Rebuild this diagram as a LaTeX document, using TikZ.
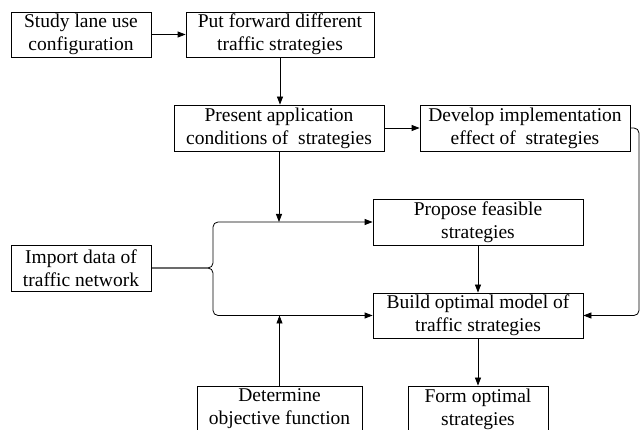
\documentclass[tikz,border=0pt]{standalone}
\usepackage{fontspec}
\setmainfont{Liberation Serif}
\usetikzlibrary{arrows.meta}

\begin{document}
\begin{tikzpicture}[x=1pt, y=-1pt,
  box/.style={draw, line width=0.8pt, align=center, inner sep=0pt,
    font=\fontsize{19.5}{23}\selectfont},
  flow/.style={line width=0.8pt, -{Triangle[length=8pt,width=6pt]}}]
  \useasboundingbox (0,0) rectangle (641,430);

  % Top rows
  \node[box, minimum width=140, minimum height=45] (study) at (81,34.5) {Study lane use\\configuration};
  \node[box, minimum width=188, minimum height=45] (forward) at (280,34.5) {Put forward different\\traffic strategies};
  \node[box, minimum width=210, minimum height=46] (present) at (279,128) {Present application\\conditions of\ \ strategies};
  \node[box, minimum width=210, minimum height=46] (develop) at (525,128) {Develop implementation\\effect of\ \ strategies};

  % Middle
  \node[box, minimum width=210, minimum height=46] (propose) at (478,222) {Propose feasible\\strategies};
  \node[box, minimum width=140, minimum height=46] (import) at (81,268) {Import data of\\traffic network};
  \node[box, minimum width=210, minimum height=45] (build) at (478,315.5) {Build optimal model of\\traffic strategies};

  % Bottom row
  \node[box, minimum width=165, minimum height=46] (determine) at (279.5,409) {Determine\\objective function};
  \node[box, minimum width=140, minimum height=46] (form) at (478,409) {Form optimal\\strategies};

  % Connectors
  \coordinate (fork) at (213,268);
  \coordinate (back) at (639,315.5);
  \draw[flow] (study) -- (forward);
  \draw[flow] (forward.south) -- (forward.south |- present.north);
  \draw[flow] (present) -- (develop);
  \draw[flow] (present.south) -- (present.south |- propose.west);
  \draw[flow, rounded corners=5] (import.east) -- (fork) |- (propose.west);
  \draw[flow, rounded corners=5] (import.east) -- (fork) |- (build.west);
  \draw[flow] (determine.north) -- (determine.north |- build.west);
  \draw[flow] (propose) -- (build);
  \draw[flow, rounded corners=5] (develop.east) -| (back) -- (build.east);
  \draw[flow] (build) -- (form);
\end{tikzpicture}
\end{document}
